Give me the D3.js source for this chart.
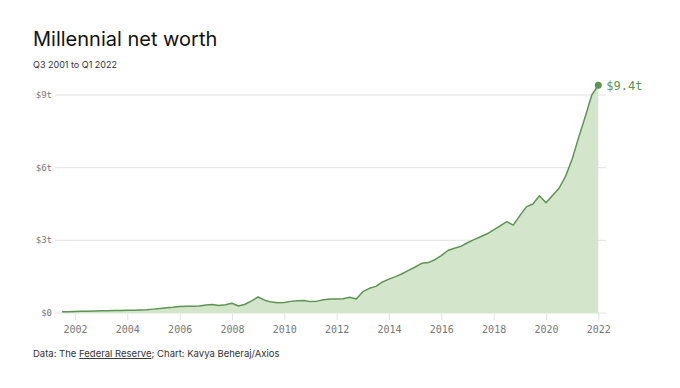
<!DOCTYPE html>
<html>
<head>
<meta charset="utf-8">
<script src="https://cdn.jsdelivr.net/npm/d3@7"></script>
<style>
  body { margin: 0; background: #fff; }
  svg text { font-family: Inter, "Noto Sans", sans-serif; }
  .mono { font-family: "DejaVu Sans Mono", monospace; }
</style>
</head>
<body>
<svg id="chart" width="680" height="388"></svg>
<script>
// quarterly, Q3 2001 .. Q1 2022, trillions of dollars
const startYear = 2001.5;
const netWorth = [
  0.05, 0.05, 0.06, 0.07, 0.07, 0.08, 0.09, 0.09, 0.10, 0.10,
  0.11, 0.11, 0.12, 0.13, 0.16, 0.19, 0.22, 0.24, 0.27, 0.28,
  0.28, 0.29, 0.33, 0.35, 0.31, 0.34, 0.40, 0.29, 0.36, 0.50,
  0.66, 0.53, 0.45, 0.42, 0.43, 0.48, 0.51, 0.52, 0.47, 0.49,
  0.55, 0.58, 0.58, 0.59, 0.65, 0.58, 0.88, 1.02, 1.10, 1.28,
  1.40, 1.50, 1.62, 1.76, 1.90, 2.05, 2.08, 2.20, 2.37, 2.58,
  2.67, 2.75, 2.90, 3.03, 3.15, 3.27, 3.43, 3.60, 3.77, 3.63,
  4.02, 4.38, 4.50, 4.84, 4.55, 4.85, 5.15, 5.65, 6.35, 7.25,
  8.10, 9.00, 9.40
];
const yearTicks = [2002, 2004, 2006, 2008, 2010, 2012, 2014, 2016, 2018, 2020, 2022];
const valueTicks = [0, 3, 6, 9];
const lastLabel = '$9.4t';

const data = netWorth.map((v, i) => ({ t: startYear + i * 0.25, v }));

const svg = d3.select('#chart');
const green = '#5e9452';

const x = d3.scaleLinear().domain([2001.236, 2022.294]).range([55, 606]);
const y = d3.scaleLinear().domain([0, 9]).range([313, 95]);

// title
svg.append('text').attr('x', 33).attr('y', 46)
  .attr('font-size', 20).attr('fill', '#111').text('Millennial net worth');
svg.append('text').attr('x', 33).attr('y', 68)
  .attr('font-size', 9).attr('fill', '#333').text('Q3 2001 to Q1 2022');

// grid
svg.append('g').selectAll('line').data(valueTicks).enter().append('line')
  .attr('x1', x.range()[0]).attr('x2', x.range()[1])
  .attr('y1', d => y(d)).attr('y2', d => y(d))
  .attr('stroke', '#e2e2e2').attr('stroke-width', 1);

svg.append('g').selectAll('text').data(valueTicks).enter().append('text')
  .attr('class', 'mono')
  .attr('x', 52).attr('y', d => y(d)).attr('dy', '0.35em')
  .attr('text-anchor', 'end').attr('font-size', 9).attr('fill', '#777')
  .text(d => d === 0 ? '$0' : `$${d}t`);

// x axis
const xAxis = d3.axisBottom(x).tickValues(yearTicks).tickSize(7).tickPadding(6)
  .tickFormat(d3.format('d'));
const gx = svg.append('g').attr('transform', `translate(0,${y(0)})`).call(xAxis);
gx.select('.domain').remove();
gx.selectAll('.tick line').attr('stroke', '#e2e2e2');
gx.selectAll('.tick text').attr('class', 'mono').attr('font-size', 10)
  .attr('fill', '#777').style('font-family', '"DejaVu Sans Mono", monospace');

// area + line
const area = d3.area().x(d => x(d.t)).y0(y(0)).y1(d => y(d.v));
const line = d3.line().x(d => x(d.t)).y(d => y(d.v));

svg.append('path').datum(data).attr('d', area).attr('fill', '#d3e6cb');
svg.append('path').datum(data).attr('d', line)
  .attr('fill', 'none').attr('stroke', green).attr('stroke-width', 1.5)
  .attr('stroke-linejoin', 'round');

const last = data[data.length - 1];
svg.append('circle').attr('cx', x(last.t)).attr('cy', y(last.v)).attr('r', 3.5)
  .attr('fill', green);
svg.append('text').attr('class', 'mono')
  .attr('x', x(last.t) + 8).attr('y', y(last.v)).attr('dy', '0.35em')
  .attr('font-size', 12).attr('fill', green).text(lastLabel);

// footer
const foot = svg.append('text').attr('x', 33).attr('y', 357)
  .attr('font-size', 9.5).attr('fill', '#333');
foot.append('tspan').text('Data: The ');
foot.append('tspan').attr('text-decoration', 'underline').text('Federal Reserve');
foot.append('tspan').text('; Chart: Kavya Beheraj/Axios');
</script>
</body>
</html>
